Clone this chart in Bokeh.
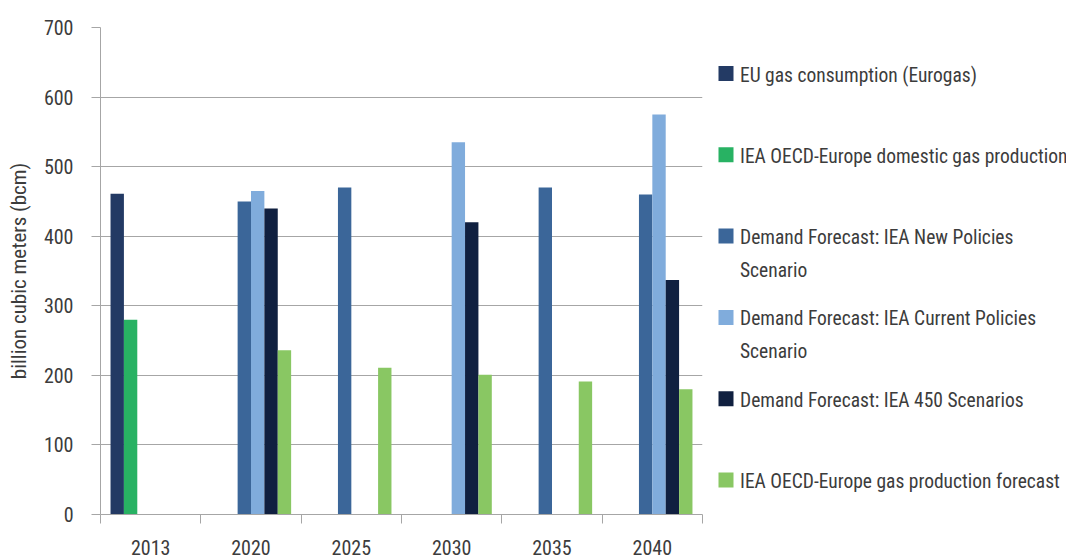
from bokeh.plotting import figure
from bokeh.layouts import row
from bokeh.models import ColumnDataSource, Range1d, FixedTicker
from bokeh.core.properties import value
from bokeh.embed import file_html
from bokeh.resources import INLINE

# --- data -------------------------------------------------------------
years = ["2013", "2020", "2025", "2030", "2035", "2040"]

series_names = [
    "EU gas consumption (Eurogas)",
    "IEA OECD-Europe domestic gas production",
    "Demand Forecast: IEA New Policies\nScenario",
    "Demand Forecast: IEA Current Policies\nScenario",
    "Demand Forecast: IEA 450 Scenarios",
    "IEA OECD-Europe gas production forecast",
]

eu_consumption = [461, None, None, None, None, None]
domestic_production = [280, None, None, None, None, None]
new_policies = [None, 450, 470, None, 470, 460]
current_policies = [None, 465, None, 535, None, 575]
scenario_450 = [None, 440, None, 420, None, 337]
production_forecast = [None, 236, 211, 201, 191, 180]

series_values = [eu_consumption, domestic_production, new_policies,
                 current_policies, scenario_450, production_forecast]
series_colors = ["#233a64", "#28b263", "#3b6699", "#80acdc", "#102040", "#89c763"]

y_ticks = [0, 100, 200, 300, 400, 500, 600, 700]

FONT = "Roboto Condensed"
TEXT = "#3c3c3c"
GRID = "#a6a6a6"

BORDER_TOP, BORDER_BOTTOM, HEIGHT = 27, 46, 560

# --- main chart -------------------------------------------------------
p = figure(width=712, height=HEIGHT, output_backend="svg", toolbar_location=None,
           x_range=Range1d(0, len(years)), y_range=Range1d(0, 700),
           min_border_left=100, min_border_right=10,
           min_border_top=BORDER_TOP, min_border_bottom=BORDER_BOTTOM)
p.outline_line_color = None

n_series = len(series_values)
slot = 0.8 / n_series
for k, (vals, color) in enumerate(zip(series_values, series_colors)):
    xs, tops = [], []
    for i, v in enumerate(vals):
        if v is not None:
            xs.append(i + 0.5 + (k - (n_series - 1) / 2) * slot)
            tops.append(v)
    src = ColumnDataSource(dict(x=xs, top=tops))
    p.vbar(x="x", top="top", bottom=0, width=slot, source=src,
           fill_color=color, line_color=None)

# category axis: labels under each group, ticks between groups
centers = [i + 0.5 for i in range(len(years))]
p.xaxis.ticker = FixedTicker(ticks=centers, minor_ticks=list(range(len(years) + 1)))
p.xaxis.major_label_overrides = {c: y for c, y in zip(centers, years)}
p.xaxis.major_tick_line_color = None
p.xaxis.major_tick_out = 0
p.xaxis.major_tick_in = 0
p.xaxis.minor_tick_out = 9
p.xaxis.minor_tick_in = 0
p.xaxis.minor_tick_line_color = GRID
p.xaxis.axis_line_color = GRID
p.xaxis.major_label_standoff = 16
p.xaxis.major_label_text_font = FONT
p.xaxis.major_label_text_font_size = "20px"
p.xaxis.major_label_text_color = TEXT

p.yaxis.ticker = FixedTicker(ticks=y_ticks)
p.yaxis.minor_tick_line_color = None
p.yaxis.major_tick_out = 9
p.yaxis.major_tick_in = 0
p.yaxis.major_tick_line_color = GRID
p.yaxis.axis_line_color = GRID
p.yaxis.major_label_standoff = 18
p.yaxis.major_label_text_font = FONT
p.yaxis.major_label_text_font_size = "20px"
p.yaxis.major_label_text_color = TEXT
p.yaxis.axis_label = "billion cubic meters (bcm)"
p.yaxis.axis_label_text_font = FONT
p.yaxis.axis_label_text_font_size = "21px"
p.yaxis.axis_label_text_font_style = "normal"
p.yaxis.axis_label_text_color = TEXT
p.yaxis.axis_label_standoff = 10

p.xgrid.grid_line_color = None
p.ygrid.grid_line_color = GRID
p.ygrid.grid_line_width = 1

# --- legend panel (frame aligned with the chart; y in pixels from top) -
leg = figure(width=354, height=HEIGHT, output_backend="svg", toolbar_location=None,
             title=None, x_range=Range1d(0, 354),
             y_range=Range1d(HEIGHT - BORDER_BOTTOM, BORDER_TOP),
             min_border_left=0, min_border_right=0,
             min_border_top=BORDER_TOP, min_border_bottom=BORDER_BOTTOM)
leg.axis.visible = False
leg.grid.visible = False
leg.outline_line_color = None

first_y = 73
step = 81.3
line_gap = 33
sq_x, sq_size, text_x = 13.5, 15, 27.5

sq_y = [first_y + step * k for k in range(n_series)]
leg.rect(x=[sq_x] * n_series, y=sq_y, width=sq_size, height=sq_size,
         fill_color=series_colors, line_color=None)

tx, ty, tt = [], [], []
for name, yc in zip(series_names, sq_y):
    for j, line in enumerate(name.split("\n")):
        tx.append(text_x)
        ty.append(yc + 1.5 + j * line_gap)
        tt.append(line)
leg.text(x=tx, y=ty, text=tt, text_font=value(FONT), text_font_size="19.5px",
         text_color=TEXT, text_baseline="alphabetic", text_align="left")

layout = row(p, leg)
open("out.html", "w").write(file_html(layout, INLINE))
